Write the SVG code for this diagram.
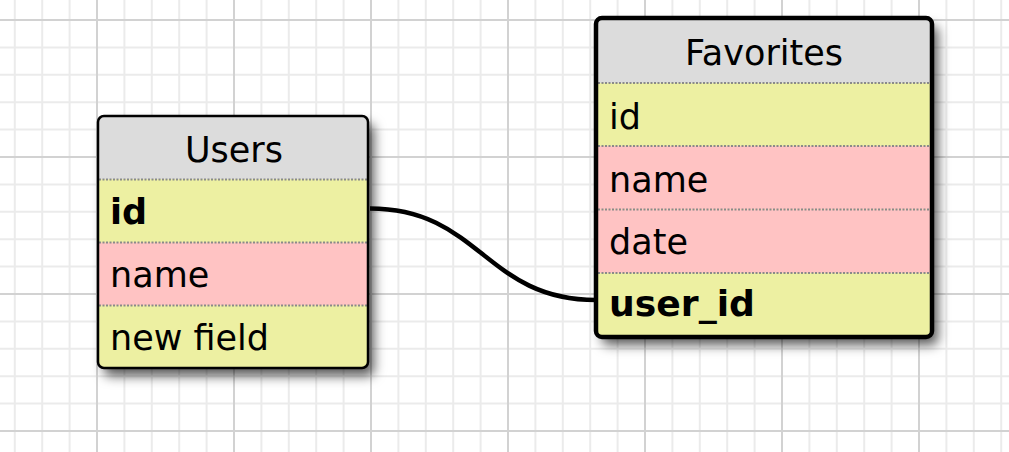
<svg xmlns="http://www.w3.org/2000/svg" width="1009" height="452" viewBox="0 0 1009 452">
  <style>
    .minor { stroke: #ebebeb; stroke-width: 2; fill: none; }
    .major { stroke: #d2d2d2; stroke-width: 2; fill: none; }
    .hdr { fill: #dcdcdc; }
    .key { fill: #edf0a2; }
    .val { fill: #ffc3c3; }
    .sep { stroke: #8a8a8a; stroke-width: 2; stroke-dasharray: 2 1.5; fill: none; }
    .title { font-family: "DejaVu Sans", Verdana, sans-serif; font-size: 35px; fill: #000; text-anchor: middle; }
    .field { font-family: "DejaVu Sans", Verdana, sans-serif; font-size: 35px; fill: #000; }
    .pk { font-weight: bold; }
    .frame { fill: none; stroke: #000; }
    .link { fill: none; stroke: #000; stroke-width: 4.5; stroke-linecap: butt; }
  </style>
  <defs>
    <filter id="shadow" x="-15%" y="-15%" width="140%" height="140%">
      <feDropShadow dx="6" dy="8" stdDeviation="6" flood-color="#000" flood-opacity="0.65"/>
    </filter>
    <clipPath id="clipUsers"><rect x="98" y="116" width="270" height="252" rx="6"/></clipPath>
    <clipPath id="clipFav"><rect x="596" y="18" width="336" height="319" rx="6"/></clipPath>
  </defs>

  <!-- background grid -->
  <rect width="1009" height="452" fill="#fff"/>
  <g id="grid">
    <path class="minor" d="M14.8 0V452M42.2 0V452M69.6 0V452M97 0V452M124.4 0V452M151.8 0V452M179.2 0V452M206.6 0V452M234 0V452M261.4 0V452M288.8 0V452M316.2 0V452M343.6 0V452M371 0V452M398.4 0V452M425.8 0V452M453.2 0V452M480.6 0V452M508 0V452M535.4 0V452M562.8 0V452M590.2 0V452M617.6 0V452M645 0V452M672.4 0V452M699.8 0V452M727.2 0V452M754.6 0V452M782 0V452M809.4 0V452M836.8 0V452M864.2 0V452M891.6 0V452M919 0V452M946.4 0V452M973.8 0V452M1001.2 0V452"/>
    <path class="minor" d="M0 20H1009M0 47.4H1009M0 74.8H1009M0 102.2H1009M0 129.6H1009M0 157H1009M0 184.4H1009M0 211.8H1009M0 239.2H1009M0 266.6H1009M0 294H1009M0 321.4H1009M0 348.8H1009M0 376.2H1009M0 403.6H1009M0 431H1009"/>
    <path class="major" d="M97 0V452M234 0V452M371 0V452M508 0V452M645 0V452M782 0V452M919 0V452M0 20H1009M0 157H1009M0 294H1009M0 431H1009"/>
  </g>

  <!-- relationship Users.id -> Favorites.user_id -->
  <g id="connectors">
    <path class="link" d="M370 208.5C480 208.5 485 300 596 300"/>
  </g>

  <!-- Users table -->
  <g id="users">
    <rect x="98" y="116" width="270" height="252" rx="6" fill="#edf0a2" filter="url(#shadow)"/>
    <g clip-path="url(#clipUsers)">
      <rect class="hdr" x="98" y="116" width="270" height="63.5"/>
      <rect class="key" x="98" y="179.5" width="270" height="63"/>
      <rect class="val" x="98" y="242.5" width="270" height="63"/>
      <rect class="key" x="98" y="305.5" width="270" height="63"/>
    </g>
    <path class="sep" d="M99 179.5H367M99 242.5H367M99 305.5H367"/>
    <rect class="frame" x="98" y="116" width="270" height="252" rx="6" stroke-width="2.5"/>
    <text class="title" x="234" y="161.5">Users</text>
    <text class="field pk" x="110" y="223.5">id</text>
    <text class="field" x="110" y="286.5">name</text>
    <text class="field" x="110" y="350">new field</text>
  </g>

  <!-- Favorites table -->
  <g id="favorites">
    <rect x="596" y="18" width="336" height="319" rx="6" fill="#edf0a2" filter="url(#shadow)"/>
    <g clip-path="url(#clipFav)">
      <rect class="hdr" x="596" y="18" width="336" height="65"/>
      <rect class="key" x="596" y="83" width="336" height="63"/>
      <rect class="val" x="596" y="146" width="336" height="63.5"/>
      <rect class="val" x="596" y="209.5" width="336" height="63.5"/>
      <rect class="key" x="596" y="273" width="336" height="64"/>
    </g>
    <path class="sep" d="M598 83H930M598 146H930M598 209.5H930M598 273H930"/>
    <rect class="frame" x="596" y="18" width="336" height="319" rx="6" stroke-width="4.5"/>
    <text class="title" x="764" y="65">Favorites</text>
    <text class="field" x="609" y="128.5">id</text>
    <text class="field" x="609" y="191.5">name</text>
    <text class="field" x="609" y="253.5">date</text>
    <text class="field pk" x="609" y="315.5" textLength="146" lengthAdjust="spacingAndGlyphs">user_id</text>
  </g>
</svg>
